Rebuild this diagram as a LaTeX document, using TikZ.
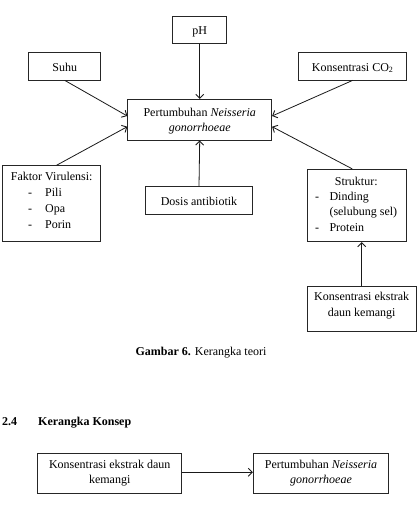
\documentclass[tikz,border=0pt]{standalone}
\usepackage{fontspec}
\setmainfont{Liberation Serif}
\usetikzlibrary{arrows.meta,calc}
\tikzset{
  box/.style={draw=black!85, line width=0.8pt, inner sep=0pt, rectangle},
  txt/.style={inner sep=0pt, anchor=base, font=\fontsize{12}{14}\selectfont},
  txtl/.style={txt, anchor=base west},
  arr/.style={draw=black!90, line width=0.8pt, -{Straight Barb[length=4pt,width=8pt,line width=0.9pt]}}
}
\begin{document}
\begin{tikzpicture}[x=1pt,y=-1pt]
\useasboundingbox (0,0) rectangle (417,519);
% boxes
\node[box, minimum width=144pt, minimum height=40.7pt] (main) at (199.7,119.7) {};
\node[box, minimum width=54pt, minimum height=26.7pt] (ph) at (199.7,30) {};
\node[box, minimum width=72pt, minimum height=27.3pt] (suhu) at (64.7,66.3) {};
\node[box, minimum width=108pt, minimum height=27.3pt] (co2) at (352.7,66.3) {};
\node[box, minimum width=98.4pt, minimum height=76pt] (faktor) at (51.5,203.7) {};
\node[box, minimum width=107.4pt, minimum height=27.6pt] (dosis) at (199,200.5) {};
\node[box, minimum width=98.7pt, minimum height=72.4pt] (struktur) at (356.7,205.5) {};
\node[box, minimum width=108.7pt, minimum height=45.7pt] (ekstrak) at (361.7,308.8) {};
\node[box, minimum width=144pt, minimum height=40pt] (bl) at (109.7,473.3) {};
\node[box, minimum width=135.4pt, minimum height=40pt] (br) at (321,473.3) {};
% texts
\node[txt] (mainA) at (199.7,116.7) {Pertumbuhan \textit{Neisseria}};
\node[txt] (mainB) at (199.7,131.7) {\textit{gonorrhoeae}};
\node[txt] (phT) at (199.7,35) {pH};
\node[txt] (suhuT) at (64.7,71) {Suhu};
\node[txt] (co2T) at (352.7,71) {Konsentrasi CO\textsubscript{2}};
\node[txt] (fk0) at (51.7,180) {Faktor Virulensi:};
\node[txtl] (fk1d) at (28,196.7) {-};
\node[txtl] (fk1) at (45,196.7) {Pili};
\node[txtl] (fk2d) at (28,212.7) {-};
\node[txtl] (fk2) at (45,212.7) {Opa};
\node[txtl] (fk3d) at (28,228.3) {-};
\node[txtl] (fk3) at (45,228.3) {Porin};
\node[txt] (dosisT) at (199,205) {Dosis antibiotik};
\node[txt] (st0) at (356.3,185) {Struktur:};
\node[txtl] (st1d) at (315,200) {-};
\node[txtl] (st1) at (329.3,200) {Dinding};
\node[txtl] (st2) at (329.3,215.7) {(selubung sel)};
\node[txtl] (st3d) at (315,231.7) {-};
\node[txtl] (st3) at (329.3,231.7) {Protein};
\node[txt] (ek1) at (361.7,300) {Konsentrasi ekstrak};
\node[txt] (ek2) at (361.7,316.7) {daun kemangi};
\node[txt] (cap) at (201,355) {\textbf{Gambar 6.} Kerangka teori};
\node[txtl] (h1) at (2,425) {\textbf{2.4}};
\node[txtl] (h2) at (38,425) {\textbf{Kerangka Konsep}};
\node[txt] (bl1) at (109.7,468.3) {Konsentrasi ekstrak daun};
\node[txt] (bl2) at (109.7,483.3) {kemangi};
\node[txt] (br1) at (321,468.3) {Pertumbuhan \textit{Neisseria}};
\node[txt] (br2) at (321,483.3) {\textit{gonorrhoeae}};
% arrows
\draw[arr] (ph.south) -- (main.north);
\draw[arr] (suhu.south) -- ([yshift=3.7pt]main.west);
\draw[arr] ([xshift=5pt]faktor.north) -- ([yshift=-7pt]main.west);
\draw[arr] (co2.south) -- ([yshift=3.7pt]main.east);
\draw[arr] ([xshift=-4.4pt]struktur.north) -- ([yshift=-7pt]main.east);
\draw[arr] (dosis.north) -- (main.south);
\draw[arr] (ekstrak.north) -- (ekstrak.north |- struktur.south);
\draw[arr] ([yshift=1pt]bl.east) -- ([yshift=1pt]br.west);
\end{tikzpicture}
\end{document}
